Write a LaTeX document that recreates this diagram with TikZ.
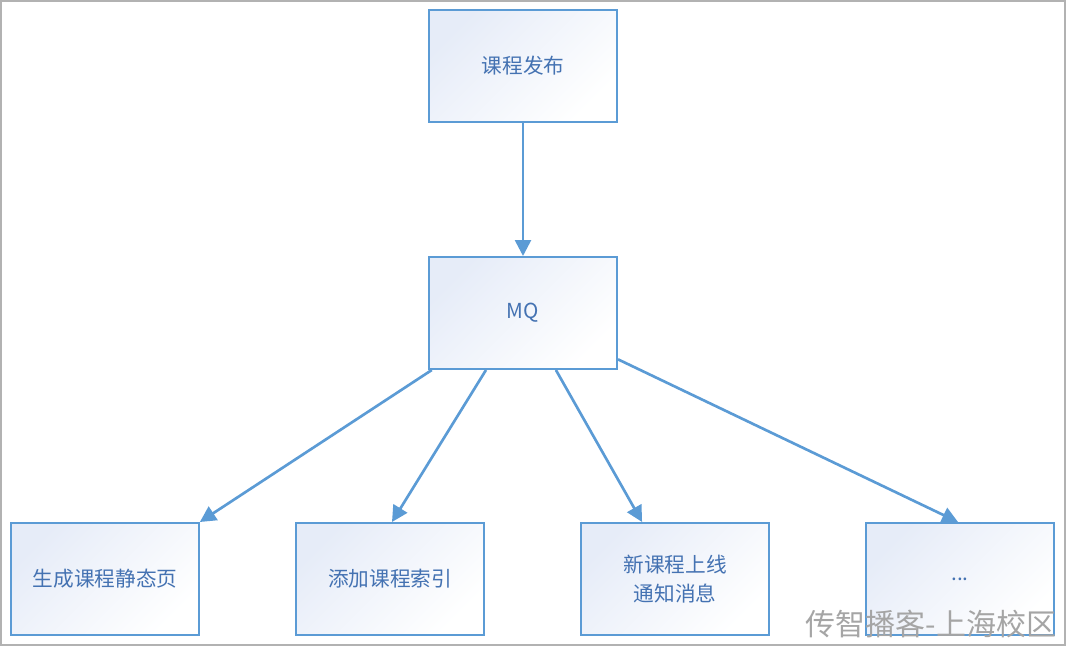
\documentclass[tikz,border=0pt]{standalone}
\usepackage{fontspec}
\newfontfamily\cjk{Noto Sans CJK SC}
\usetikzlibrary{arrows.meta}
\definecolor{boxline}{RGB}{91,155,213}
\definecolor{boxtext}{RGB}{68,114,178}
\definecolor{boxfill}{RGB}{230,236,248}
\definecolor{frameline}{RGB}{178,178,178}
\definecolor{marktext}{RGB}{165,165,165}
\newcommand\moredots{...}

\begin{document}
\begin{tikzpicture}[x=0.75pt,y=-0.75pt,
    box/.style={draw=boxline, line width=1.5pt, top color=boxfill, bottom color=white,
      shading angle=45, minimum width=141pt, minimum height=84pt, inner sep=0pt,
      align=center, text=boxtext, font=\cjk\fontsize{15.5}{22}\selectfont},
    link/.style={draw=boxline, line width=2pt, -{Triangle[length=12pt,width=12pt]}}]
    \useasboundingbox (0,0) rectangle (1066,646);
    \draw[frameline, line width=1.5pt] (1,1) rectangle (1065,645);
    % publisher and queue
    \node[box] (pub) at (523,66) {课程发布};
    \node[box] (mq) at (523,313) {MQ};
    \draw[link] (pub) -- (mq);
    % consumers
    \foreach \name/\x/\txt in {gen/105/生成课程静态页, idx/390/添加课程索引,
        msg/675/{新课程上线\\通知消息}, more/960/\moredots}
    \node[box] (\name) at (\x,579) {\txt};
    \draw[link] (mq.212.3) -- (gen.31);
    \draw[link] (mq.237.7) -- (idx.88);
    \draw[link] (mq.300.8) -- (msg.120);
    \draw[link] (mq.334.2) -- (more.92);
    % watermark
    \node[anchor=east, text=marktext, font=\cjk\fontsize{22.5}{22}\selectfont] (mark) at (1061,624) {传智播客-上海校区};
\end{tikzpicture}
\end{document}
